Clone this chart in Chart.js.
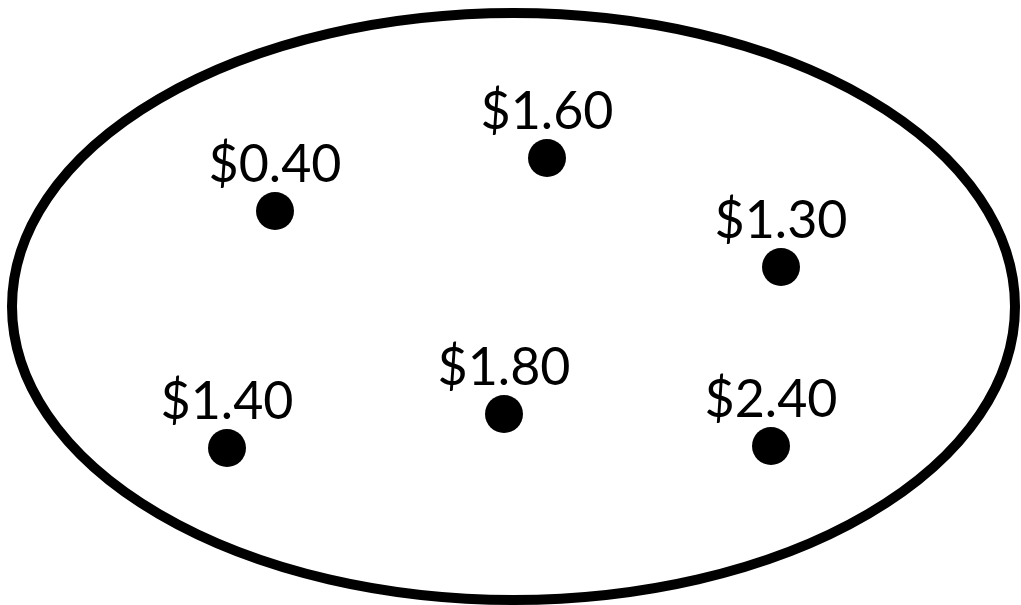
<!DOCTYPE html>
<html>
<head>
<meta charset="utf-8">
<script src="https://cdn.jsdelivr.net/npm/chart.js@4/dist/chart.umd.min.js"></script>
<style>
  html, body { margin: 0; padding: 0; background: #fff; }
  #wrap { position: relative; width: 1021px; height: 605px; }
</style>
</head>
<body>
<div id="wrap"><canvas id="chart" width="1021" height="605"></canvas></div>
<script>
// prices shown next to each dot
const prices = [0.40, 1.60, 1.30, 1.40, 1.80, 2.40];
// where each dot sits inside the oval (plot units)
const dotX = [275, 547, 781, 227, 504, 771];
const dotY = [211, 158, 267, 448, 414, 446];

const pts = prices.map((p, i) => ({ x: dotX[i], y: dotY[i] }));

// the oval around the dots
const oval = { cx: 513.5, cy: 306.5, rx: 501.5, ry: 293.5 };

const ovalPlugin = {
  id: "oval",
  beforeDatasetsDraw(chart) {
    const { ctx, scales } = chart;
    const cx = scales.x.getPixelForValue(oval.cx);
    const cy = scales.y.getPixelForValue(oval.cy);
    const rx = Math.abs(scales.x.getPixelForValue(oval.cx + oval.rx) - cx);
    const ry = Math.abs(scales.y.getPixelForValue(oval.cy + oval.ry) - cy);
    ctx.save();
    ctx.beginPath();
    ctx.ellipse(cx, cy, rx, ry, 0, 0, Math.PI * 2);
    ctx.lineWidth = 10;
    ctx.strokeStyle = "#000";
    ctx.stroke();
    ctx.restore();
  }
};

const priceLabels = {
  id: "priceLabels",
  afterDatasetsDraw(chart) {
    const { ctx } = chart;
    const meta = chart.getDatasetMeta(0);
    ctx.save();
    ctx.fillStyle = "#000";
    ctx.font = "52px Lato";
    ctx.textAlign = "center";
    ctx.textBaseline = "alphabetic";
    meta.data.forEach((pt, i) => {
      ctx.fillText("$" + prices[i].toFixed(2), pt.x, pt.y - 29);
    });
    ctx.restore();
  }
};

new Chart(document.getElementById("chart").getContext("2d"), {
  type: "scatter",
  data: {
    datasets: [{
      data: pts,
      pointRadius: 19,
      pointHoverRadius: 19,
      pointBackgroundColor: "#000",
      pointBorderWidth: 0
    }]
  },
  options: {
    responsive: false,
    animation: false,
    layout: { padding: 0, autoPadding: false },
    plugins: { legend: { display: false }, tooltip: { enabled: false } },
    scales: {
      x: { type: "linear", min: 0, max: 1021, display: false },
      y: { type: "linear", min: 0, max: 605, reverse: true, display: false }
    }
  },
  plugins: [ovalPlugin, priceLabels]
});
</script>
</body>
</html>
